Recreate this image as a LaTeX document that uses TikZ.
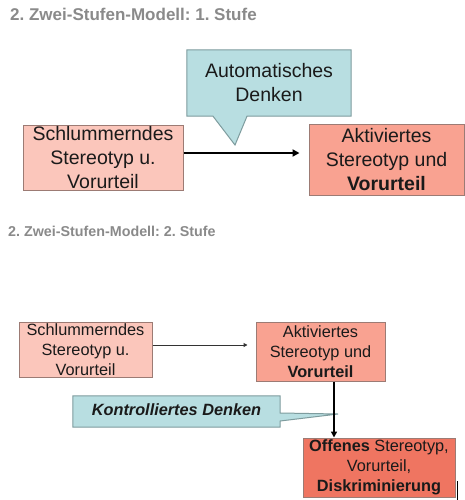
\documentclass[tikz,border=0pt]{standalone}
\usepackage{fontspec}
\setmainfont{Liberation Sans}
\usetikzlibrary{calc,arrows.meta}
\definecolor{pinkA}{HTML}{FBC6BB}
\definecolor{salmonA}{HTML}{F9A291}
\definecolor{redA}{HTML}{EF7561}
\definecolor{cyanA}{HTML}{B8DEE1}
\definecolor{boxline}{HTML}{9C7B74}
\definecolor{calline}{HTML}{7E9C9E}
\definecolor{titlegrey}{HTML}{8A8A8A}
\definecolor{ink}{HTML}{1A1A1A}
\frenchspacing
\begin{document}
\begin{tikzpicture}[x=1pt,y=-1pt,
  boxbase/.style={draw=boxline, line width=1pt, align=center, inner sep=0pt, text=ink},
  bigbox/.style={boxbase, font=\fontsize{19.5}{24}\selectfont},
  smallbox/.style={boxbase, font=\fontsize{16.3}{20}\selectfont},
  calloutshape/.style={fill=cyanA, draw=calline, line width=1pt, line join=miter},
  titletext/.style={anchor=base west, text=titlegrey, inner sep=0pt},
  thickarrow/.style={draw=black, line width=2pt, -{Triangle[length=7pt,width=7pt]}},
  thinarrow/.style={draw=black!80, line width=1pt, -{Triangle[length=4pt,width=4pt]}},
]
\useasboundingbox[fill=white] (0,0) rectangle (465,500);

% ---------- Stage 1 ----------
\node[titletext, font=\bfseries\fontsize{17}{20}\selectfont] (t1) at (10,21) {2.\ Zwei-Stufen-Modell: 1.\ Stufe};

\node[bigbox, fill=pinkA, minimum width=160pt, minimum height=65pt] (l1) at (103,157.5)
  {Schlummerndes\\Stereotyp u.\\Vorurteil};
\node[bigbox, fill=salmonA, minimum width=155pt, minimum height=71pt] (r1) at (386.5,159.5)
  {Aktiviertes\\Stereotyp und\\\textbf{Vorurteil}};

\node[minimum width=164pt, minimum height=66pt, inner sep=0pt] (c1) at (269,83) {};
\coordinate (c1tip) at (235,145);
\path[calloutshape] (c1.north west) -- (c1.north east) -- (c1.south east)
  -- ($(c1.south)+(-22,0)$) -- (c1tip) -- ($(c1.south)+(-56,0)$) -- (c1.south west) -- cycle;
\node[align=center, text=ink, font=\fontsize{19.5}{24}\selectfont] at (c1.center) {Automatisches\\Denken};

\draw[thickarrow] ($(l1.east)+(0,-4.5)$) -- ($(r1.west)+(-9,-6.5)$);

% ---------- Stage 2 ----------
\node[titletext, font=\bfseries\fontsize{14.3}{17}\selectfont] (t2) at (8,236) {2.\ Zwei-Stufen-Modell: 2.\ Stufe};

\node[smallbox, fill=pinkA, minimum width=133pt, minimum height=55pt] (l2) at (85.5,349.5)
  {Schlummerndes\\Stereotyp u.\\Vorurteil};
\node[smallbox, fill=salmonA, minimum width=129pt, minimum height=59pt] (r2) at (320.5,351.5)
  {Aktiviertes\\Stereotyp und\\\textbf{Vorurteil}};
\node[smallbox, fill=redA, minimum width=152pt, minimum height=59pt] (b3) at (379,467.5)
  {\textbf{Offenes} Stereotyp,\\Vorurteil,\\\textbf{Diskriminierung}};

\node[minimum width=207pt, minimum height=31pt, inner sep=0pt] (c2) at (176.5,411.5) {};
\coordinate (c2tip) at (338,414);
\path[calloutshape] (c2.north west) -- (c2.north east) -- ($(c2.east)+(0,1.5)$)
  -- (c2tip) -- ($(c2.east)+(0,9.5)$) -- (c2.south east) -- (c2.south west) -- cycle;
\node[text=ink, font=\bfseries\itshape\fontsize{16.3}{20}\selectfont] at ($(c2.center)+(0,-1.5)$) {Kontrolliertes Denken};

\draw[thinarrow] ($(l2.east)+(0,-4.5)$) -- ($(r2.west)+(-8,-6.5)$);
\draw[thickarrow, -{Triangle[length=6pt,width=6pt]}] ($(r2.south)+(13.5,0)$) -- ($(b3.north)+(-45,0)$);

% cursor mark
\coordinate (cur1) at (457,481);
\coordinate (cur2) at (457,500);
\draw[line width=1pt, black] (cur1) -- (cur2);
\end{tikzpicture}
\end{document}
